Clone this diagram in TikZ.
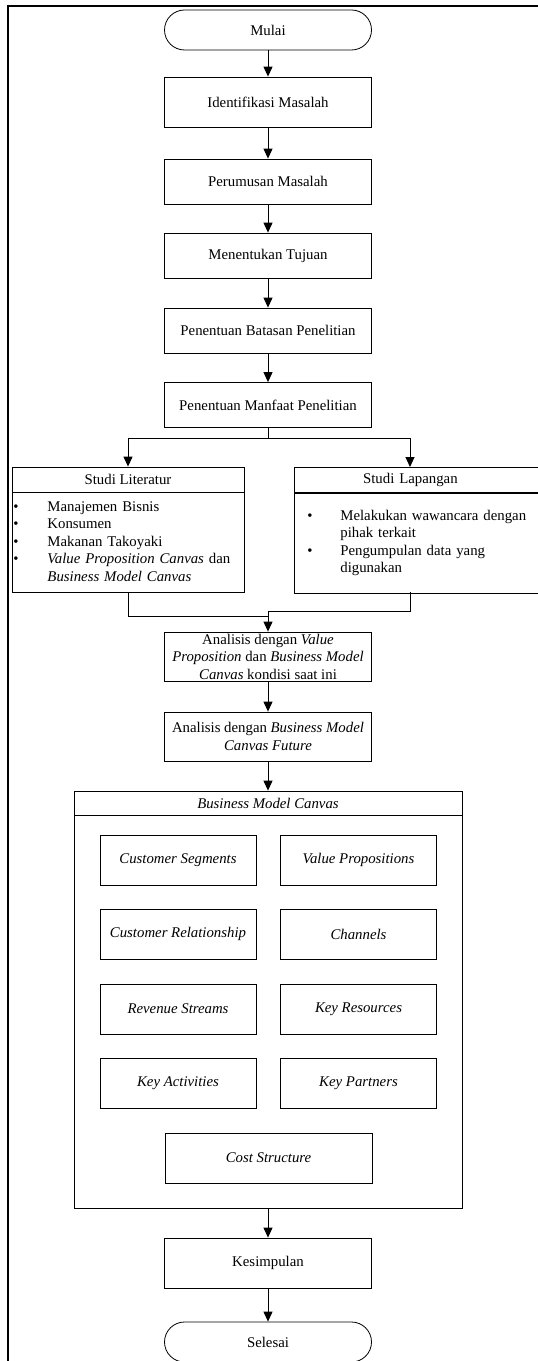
\documentclass[tikz,border=0pt]{standalone}
\usepackage{fontspec}
\setmainfont{Liberation Serif}
\usepackage{array}
\usetikzlibrary{arrows.meta,positioning,shapes}

\begin{document}
\begin{tikzpicture}[x=1bp,y=1bp,
            font=\fontsize{14.8bp}{17.5bp}\selectfont,
            proses/.style={draw,rectangle,line width=0.8bp,minimum width=207bp,minimum height=45bp,inner sep=1bp,align=center},
            terminal/.style={proses,rounded corners=20bp,minimum height=40bp},
            judul/.style={draw,rectangle,line width=0.8bp,minimum height=25bp,inner sep=0bp},
            isi/.style={draw,rectangle,line width=0.8bp,minimum height=100bp,inner ysep=0bp,align=left,anchor=north west},
            blok/.style={proses,minimum width=156bp,minimum height=50bp,font=\fontsize{14.8bp}{17.5bp}\selectfont\itshape},
            panah/.style={draw,->,line width=1bp,>={Triangle[length=10bp,width=9bp]}},
            garis/.style={draw,line width=1bp},
            bingkai/.style={draw,line width=1.8bp}
          ]
          \useasboundingbox (0,0) rectangle (538,-1361);
          \draw[bingkai] (8,-1361) -- (8,-6) -- (538,-6);

          %alur utama
          \node[terminal] (mulai) at (268,-30) {Mulai};
          \node[proses,minimum height=50bp,below of=mulai,node distance=72bp] (identifikasi) {Identifikasi Masalah};
          \node[proses,below of=identifikasi,node distance=79.5bp] (perumusan) {Perumusan Masalah};
          \node[proses,below of=perumusan,node distance=74bp] (tujuan) {Menentukan Tujuan};
          \node[proses,below of=tujuan,node distance=75bp] (batasan) {Penentuan Batasan Penelitian};
          \node[proses,below of=batasan,node distance=74.5bp] (manfaat) {Penentuan Manfaat Penelitian};

          %studi
          \node[judul,minimum width=232bp] (literatur) at (128,-479.5) {Studi Literatur};
          \node[isi,text width=229bp,inner xsep=1.5bp] (literaturisi) at (literatur.south west) {%
            \begin{tabular}{@{}p{34bp}@{}>{\raggedright\arraybackslash}p{195bp}@{}}
              \textbullet & Manajemen Bisnis\\
              \textbullet & Konsumen\\
              \textbullet & Makanan Takoyaki\\
              \textbullet & \textit{Value Proposition Canvas} dan\newline \textit{Business Model Canvas}
            \end{tabular}};
          \node[judul,text width=246bp,align=left,anchor=north west] (lapangan) at (294,-467) {\makebox[232bp]{Studi Lapangan}};
          \node[isi,text width=220bp,inner xsep=13bp] (lapanganisi) at (lapangan.south west) {%
            \begin{tabular}{@{}p{33bp}@{}>{\raggedright\arraybackslash}p{187bp}@{}}
              \textbullet & Melakukan wawancara dengan\newline pihak terkait\\
              \textbullet & Pengumpulan data yang\newline digunakan
            \end{tabular}};
          \coordinate (cabang) at (268,-438);
          \coordinate (lapanganAtas) at (410,-467);
          \coordinate (lapanganBawah) at (410,-592);
          \coordinate (gabungKiri) at (268,-616);
          \coordinate (gabung) at (268,-611);

          %analisis
          \node[proses,minimum height=49bp,inner ysep=0bp] (analisis1) at (268,-656.5) {Analisis dengan \textit{Value}\\\textit{Proposition} dan \textit{Business Model}\\\textit{Canvas} kondisi saat ini};
          \node[proses,minimum height=49bp,below of=analisis1,node distance=80bp] (analisis2) {Analisis dengan \textit{Business Model}\\\textit{Canvas Future}};

          %business model canvas
          \node[judul,minimum width=388bp,minimum height=24bp,font=\fontsize{14.8bp}{17.5bp}\selectfont\itshape] (bmc) at (268,-803) {Business Model Canvas};
          \node[draw,rectangle,line width=0.8bp,minimum width=388bp,minimum height=393bp,anchor=north] (bmcisi) at (bmc.south) {};
          \node[blok] (segmen) at (178,-860) {Customer Segments};
          \node[blok] (nilai) at (358.5,-860) {Value Propositions};
          \node[blok] (relasi) at (178,-934) {Customer Relationship};
          \node[blok] (saluran) at (358.5,-934) {Channels};
          \node[blok] (pendapatan) at (178,-1009) {Revenue Streams};
          \node[blok] (sumberdaya) at (358.5,-1009) {Key Resources};
          \node[blok] (aktivitas) at (178,-1083) {Key Activities};
          \node[blok] (mitra) at (358.5,-1083) {Key Partners};
          \node[blok,minimum width=207bp] (biaya) at (268.5,-1158) {Cost Structure};

          %akhir
          \node[proses,minimum height=50bp] (kesimpulan) at (268,-1263) {Kesimpulan};
          \node[terminal,below of=kesimpulan,node distance=79bp] (selesai) {Selesai};

          \path[panah]
          (mulai) edge (identifikasi)
          (identifikasi) edge (perumusan)
          (perumusan) edge (tujuan)
          (tujuan) edge (batasan)
          (batasan) edge (manfaat)
          (analisis1) edge (analisis2)
          (analisis2) edge (bmc)
          (bmcisi) edge (kesimpulan)
          (kesimpulan) edge (selesai)
          ;
          \draw[garis] (manfaat.south) -- (cabang);
          \draw[panah] (cabang) -| (literatur.north);
          \draw[panah] (cabang) -| (lapanganAtas);
          \draw[garis] (literaturisi.south) |- (gabungKiri);
          \draw[garis] (lapanganBawah) |- (gabung);
          \draw[panah] (gabung) -- (analisis1.north);

      \end{tikzpicture}
\end{document}
